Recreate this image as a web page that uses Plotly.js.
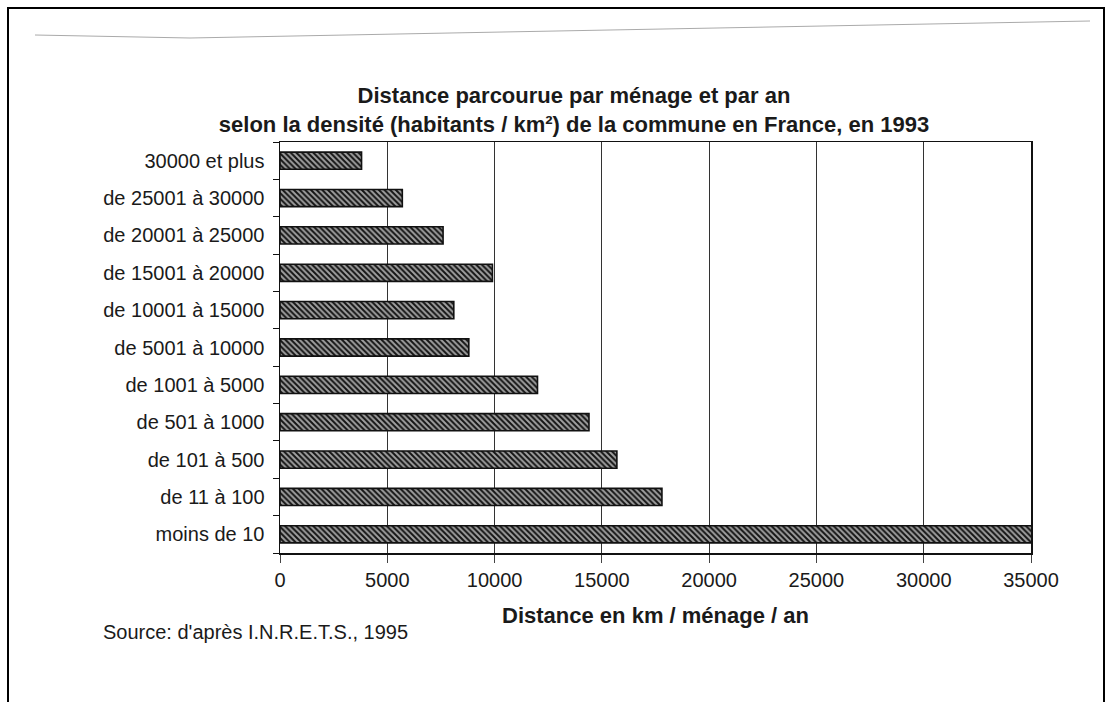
<!DOCTYPE html>
<html>
<head>
<meta charset="utf-8">
<script src="https://cdn.plot.ly/plotly-3.0.1.min.js"></script>
<style>
  html, body { margin: 0; padding: 0; background: #fff; }
  #wrap { position: relative; width: 1111px; height: 702px; }
  #chart { position: absolute; left: 0; top: 0; width: 1111px; height: 702px; }
  #frame { position: absolute; left: 7px; top: 7px; width: 1094px; height: 700px; border: 2px solid #000; pointer-events: none; }
</style>
</head>
<body>
<div id="wrap">
  <div id="chart"></div>
  <div id="frame"></div>
</div>
<script>
// Data (bottom to top)
const categories = [
  "moins de 10",
  "de 11 à 100",
  "de 101 à 500",
  "de 501 à 1000",
  "de 1001 à 5000",
  "de 5001 à 10000",
  "de 10001 à 15000",
  "de 15001 à 20000",
  "de 20001 à 25000",
  "de 25001 à 30000",
  "30000 et plus"
];
const distances = [35100, 17800, 15700, 14400, 12000, 8800, 8100, 9900, 7600, 5700, 3800];
const xTicks = [0, 5000, 10000, 15000, 20000, 25000, 30000, 35000];

const font = "'Liberation Sans', Arial, sans-serif";

// plot-area geometry (pixels) used only to place decorations
const W = 1111, H = 702;
const M = { l: 280, r: 80, t: 142, b: 149 };
const pw = W - M.l - M.r, ph = H - M.t - M.b;
const px = x => (x - M.l) / pw;
const py = y => (H - M.b - y) / ph;

const trace = {
  type: "bar",
  orientation: "h",
  y: categories,
  x: distances,
  marker: {
    color: "#808080",
    line: { color: "#111", width: 1.6 },
    pattern: { shape: "\\", fgcolor: "#141414", bgcolor: "#a0a0a0", size: 4, solidity: 0.5 }
  },
  hoverinfo: "x+y"
};

const layout = {
  width: W,
  height: H,
  paper_bgcolor: "rgba(0,0,0,0)",
  plot_bgcolor: "#fff",
  margin: M,
  bargap: 0.54,
  showlegend: false,
  font: { family: font, color: "#1a1a1a" },
  title: {
    text: "<b>Distance parcourue par ménage et par an</b><br><b>selon la densité (habitants / km²) de la commune en France, en 1993</b>",
    font: { family: font, size: 22, color: "#1a1a1a" },
    x: 574 / W, xref: "container", xanchor: "center",
    y: 1 - 103 / H, yref: "container", yanchor: "middle"
  },
  xaxis: {
    range: [0, 35000],
    tickvals: xTicks,
    ticktext: xTicks.map(String),
    showgrid: true,
    gridcolor: "#333",
    gridwidth: 1,
    zeroline: false,
    showline: true,
    linecolor: "#111",
    linewidth: 1.5,
    mirror: true,
    ticks: "outside",
    ticklen: 8,
    tickcolor: "#444",
    tickfont: { family: font, size: 20, color: "#1a1a1a" },
    title: {
      text: "<b>Distance en km / ménage / an</b>",
      font: { family: font, size: 22, color: "#1a1a1a" },
      standoff: 18
    },
    fixedrange: true
  },
  yaxis: {
    type: "category",
    showgrid: false,
    showline: true,
    linecolor: "#111",
    linewidth: 1.5,
    mirror: true,
    ticks: "outside",
    ticklen: 6,
    tickcolor: "#111",
    tickson: "boundaries",
    ticklabelstandoff: 10,
    tickfont: { family: font, size: 20, color: "#1a1a1a" },
    fixedrange: true
  },
  annotations: [
    {
      text: "Source: d'après I.N.R.E.T.S., 1995",
      xref: "paper", yref: "paper",
      x: px(101), y: py(632),
      xanchor: "left", yanchor: "middle",
      showarrow: false,
      font: { family: font, size: 20, color: "#1a1a1a" }
    }
  ],
  shapes: [
    {
      type: "path", xref: "paper", yref: "paper",
      path: "M " + px(35) + "," + py(35) + " L " + px(190) + "," + py(38) +
            " L " + px(450) + "," + py(33) + " L " + px(1090) + "," + py(21),
      line: { color: "#aaa", width: 1 }
    }
  ]
};

Plotly.newPlot("chart", [trace], layout, { displayModeBar: false, staticPlot: true });
</script>
</body>
</html>
